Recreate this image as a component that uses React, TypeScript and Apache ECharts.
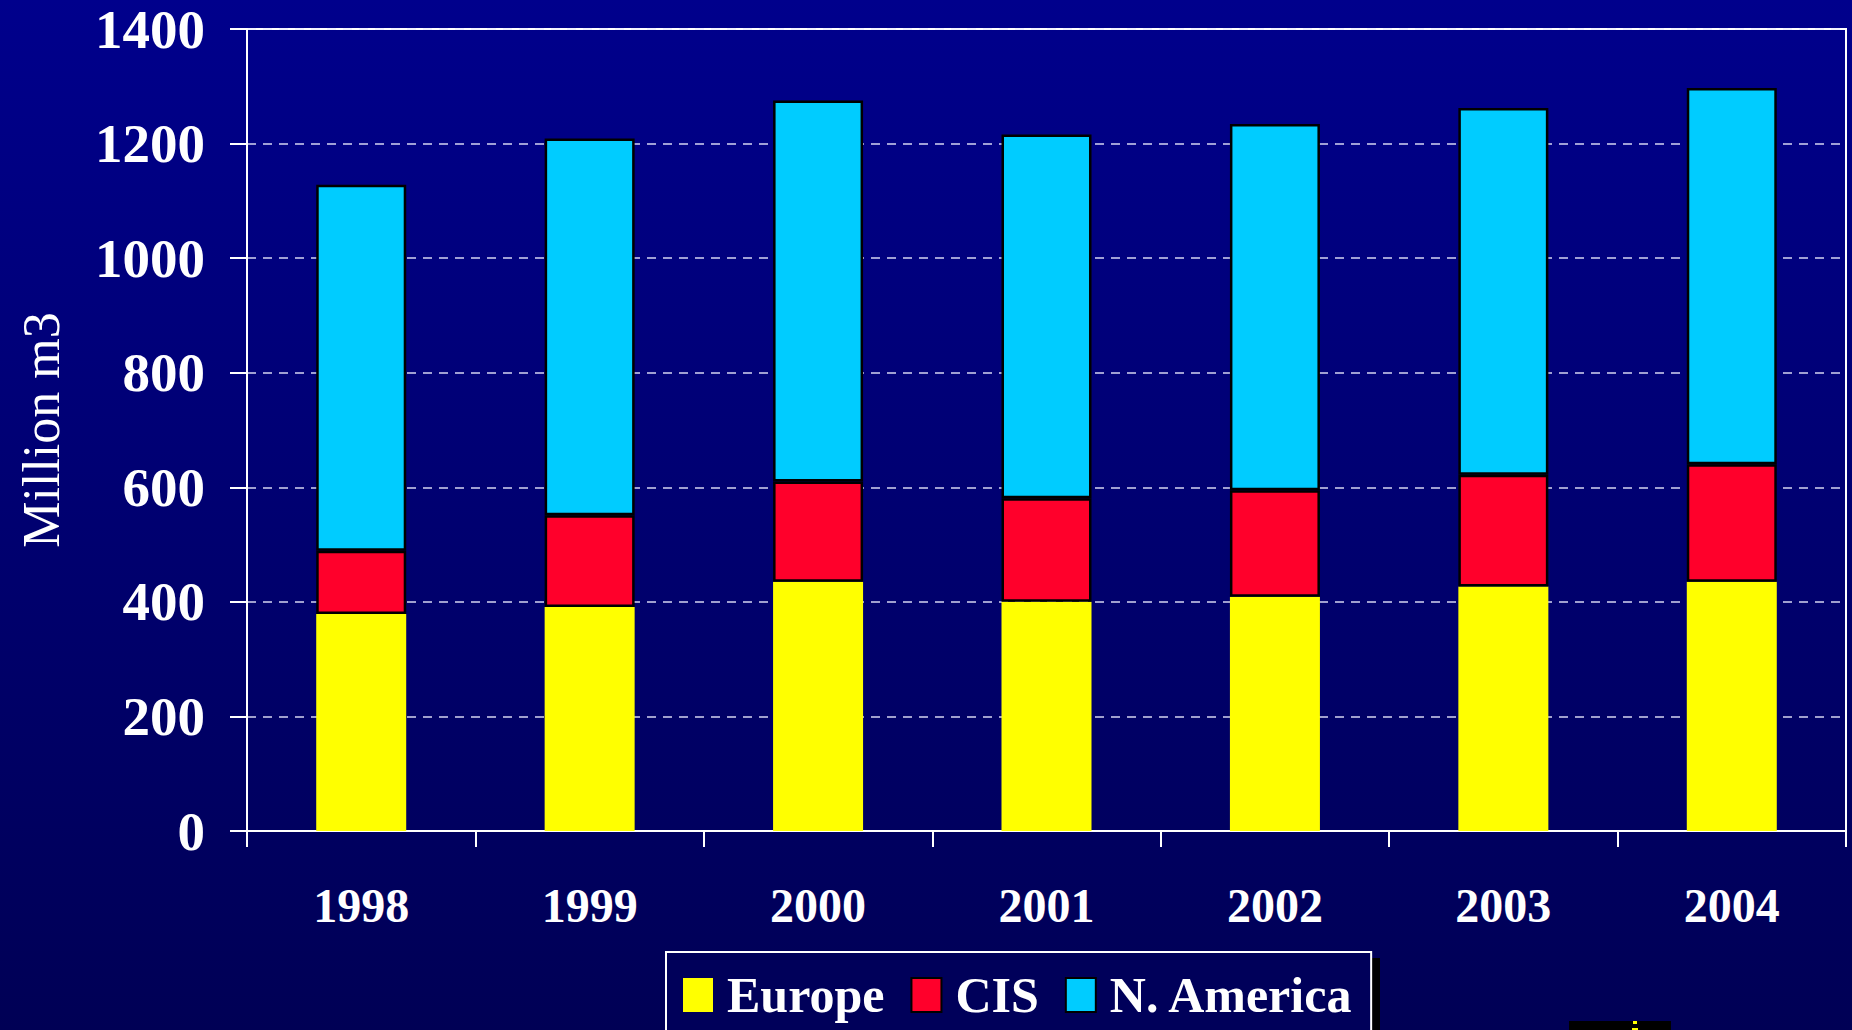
import React, { useEffect, useRef } from "react";
import * as echarts from "echarts";

const years = ["1998", "1999", "2000", "2001", "2002", "2003", "2004"];
const europe = [379, 391, 435, 400, 409, 427, 435];
const cis = [110, 160, 175, 181, 186, 195, 205];
const northAmerica = [639, 658, 665, 635, 639, 640, 657];
const yTicks = { min: 0, max: 1400, interval: 200 };

const SERIF = '"Liberation Serif", "Times New Roman", serif';

export default function App() {
  const ref = useRef<HTMLDivElement>(null);
  useEffect(() => {
    document.body.style.margin = "0";
    const chart = echarts.init(ref.current!, null, { renderer: "svg" });
    chart.setOption({
      animation: false,
      backgroundColor: {
        type: "linear",
        x: 0,
        y: 0,
        x2: 0,
        y2: 1,
        colorStops: [
          { offset: 0, color: "#00008c" },
          { offset: 1, color: "#000055" },
        ],
      },
      grid: {
        left: 247,
        right: 6,
        top: 29,
        bottom: 199,
        show: true,
        borderColor: "#ffffff",
        borderWidth: 2,
        containLabel: false,
      },
      legend: {
        left: 666,
        top: 952,
        orient: "horizontal",
        padding: [18, 17, 40, 17],
        itemWidth: 30,
        itemHeight: 34,
        itemGap: 26,
        icon: "rect",
        borderColor: "#ffffff",
        borderWidth: 2,
        backgroundColor: "#00005a",
        z: 10,
        textStyle: {
          color: "#ffffff",
          fontFamily: SERIF,
          fontWeight: "bold",
          fontSize: 50,
          padding: [0, 0, 0, 9],
        },
        data: ["Europe", "CIS", "N. America"],
      },
      graphic: [
        {
          type: "rect",
          z: 1,
          shape: { x: 674, y: 958, width: 706, height: 100 },
          style: { fill: "#000000" },
        },
        {
          type: "rect",
          z: 1,
          shape: { x: 1569, y: 1021, width: 102, height: 12 },
          style: { fill: "#000000" },
        },
        {
          type: "rect",
          z: 2,
          shape: { x: 1633, y: 1021, width: 4, height: 3 },
          style: { fill: "#ffff00" },
        },
        {
          type: "rect",
          z: 2,
          shape: { x: 1632, y: 1028, width: 6, height: 3 },
          style: { fill: "#ffff00" },
        },
      ],
      xAxis: {
        type: "category",
        data: years,
        boundaryGap: true,
        axisLine: { show: true, lineStyle: { color: "#ffffff", width: 2 } },
        axisTick: {
          show: true,
          inside: false,
          length: 16,
          alignWithLabel: false,
          lineStyle: { color: "#ffffff", width: 2 },
        },
        axisLabel: {
          color: "#ffffff",
          fontFamily: SERIF,
          fontWeight: "bold",
          fontSize: 48,
          margin: 50,
        },
        splitLine: { show: false },
      },
      yAxis: {
        type: "value",
        min: yTicks.min,
        max: yTicks.max,
        interval: yTicks.interval,
        name: "Million m3",
        nameLocation: "middle",
        nameGap: 180,
        nameRotate: 90,
        nameTextStyle: {
          color: "#ffffff",
          fontFamily: SERIF,
          fontWeight: "normal",
          fontSize: 52,
        },
        axisLine: { show: true, lineStyle: { color: "#ffffff", width: 2 } },
        axisTick: {
          show: true,
          inside: false,
          length: 17,
          lineStyle: { color: "#ffffff", width: 2 },
        },
        axisLabel: {
          color: "#ffffff",
          fontFamily: SERIF,
          fontWeight: "bold",
          fontSize: 55,
          margin: 42,
          formatter: (v: number) => String(v),
        },
        splitLine: {
          show: true,
          lineStyle: { color: "rgba(235,235,255,0.9)", width: 1.5, type: [9, 7] },
        },
      },
      series: [
        {
          name: "Europe",
          type: "bar",
          stack: "total",
          barWidth: 90,
          data: europe,
          itemStyle: { color: "#ffff00", borderWidth: 0 },
        },
        {
          name: "CIS",
          type: "bar",
          stack: "total",
          barWidth: 90,
          data: cis,
          itemStyle: { color: "#ff002b", borderColor: "#000000", borderWidth: 2.5 },
        },
        {
          name: "N. America",
          type: "bar",
          stack: "total",
          barWidth: 90,
          data: northAmerica,
          itemStyle: { color: "#00ccff", borderColor: "#000000", borderWidth: 2.5 },
        },
      ],
    });
    return () => chart.dispose();
  }, []);
  return <div ref={ref} style={{ width: 1852, height: 1030 }} />;
}
